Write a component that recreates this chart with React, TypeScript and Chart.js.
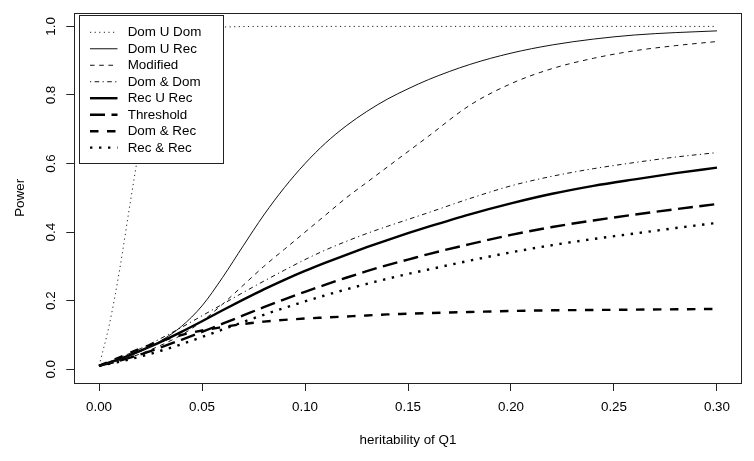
import React, { useEffect, useRef } from "react";
import { Chart, registerables } from "chart.js";
Chart.register(...registerables);

const FONT = '"Liberation Sans", Arial, Helvetica, sans-serif';
const FS = 13.4;

// x grid shared by most series
const xVals = [0, 0.01, 0.02, 0.03, 0.04, 0.05, 0.06, 0.07, 0.08, 0.09, 0.10, 0.11, 0.12, 0.13, 0.14, 0.15, 0.16, 0.18, 0.20, 0.22, 0.24, 0.26, 0.28, 0.30];

// Dom U Dom has a finer x grid near the origin
const domUDomX = [0, 0.005, 0.01, 0.015, 0.02, 0.025, 0.03, 0.035, 0.04, 0.05, 0.06, 0.08, 0.10, 0.15, 0.20, 0.25, 0.30];
const domUDom = [0.01, 0.13, 0.29, 0.48, 0.66, 0.80, 0.90, 0.955, 0.98, 0.994, 0.998, 1, 1, 1, 1, 1, 1];

const domURec = [0.01, 0.028, 0.052, 0.083, 0.125, 0.185, 0.268, 0.36, 0.45, 0.53, 0.60, 0.66, 0.71, 0.752, 0.788, 0.818, 0.845, 0.889, 0.922, 0.946, 0.963, 0.975, 0.982, 0.987];
const modified = [0.01, 0.025, 0.045, 0.07, 0.10, 0.14, 0.19, 0.245, 0.30, 0.35, 0.40, 0.45, 0.50, 0.545, 0.59, 0.635, 0.68, 0.77, 0.833, 0.877, 0.907, 0.929, 0.944, 0.956];
const domDom = [0.01, 0.034, 0.06, 0.09, 0.122, 0.156, 0.19, 0.224, 0.257, 0.289, 0.32, 0.348, 0.373, 0.396, 0.417, 0.437, 0.457, 0.498, 0.535, 0.563, 0.585, 0.603, 0.619, 0.632];
const recURec = [0.01, 0.03, 0.054, 0.08, 0.109, 0.14, 0.172, 0.203, 0.233, 0.261, 0.287, 0.311, 0.334, 0.356, 0.377, 0.397, 0.416, 0.452, 0.484, 0.512, 0.535, 0.554, 0.572, 0.588];
const threshold = [0.01, 0.025, 0.043, 0.064, 0.086, 0.109, 0.133, 0.157, 0.181, 0.204, 0.226, 0.247, 0.267, 0.286, 0.304, 0.32, 0.336, 0.365, 0.392, 0.415, 0.434, 0.451, 0.467, 0.482];
const domRec = [0.01, 0.035, 0.06, 0.082, 0.10, 0.113, 0.123, 0.132, 0.139, 0.144, 0.148, 0.151, 0.154, 0.157, 0.16, 0.162, 0.164, 0.167, 0.17, 0.172, 0.173, 0.174, 0.175, 0.176];
const recRec = [0.01, 0.022, 0.037, 0.054, 0.073, 0.094, 0.116, 0.138, 0.159, 0.179, 0.198, 0.216, 0.233, 0.249, 0.264, 0.278, 0.291, 0.317, 0.341, 0.362, 0.38, 0.396, 0.412, 0.427];

const seriesNames = ["Dom U Dom", "Dom U Rec", "Modified", "Dom & Dom", "Rec U Rec", "Threshold", "Dom & Rec", "Rec & Rec"];

const xTicks = [0, 0.05, 0.10, 0.15, 0.20, 0.25, 0.30];
const yTicks = [0, 0.2, 0.4, 0.6, 0.8, 1.0];

const thin = 1;
const thick = 2.4;

const pts = (xs: number[], ys: number[]) => xs.map((x, i) => ({ x, y: ys[i] }));

export default function App() {
  const ref = useRef<HTMLCanvasElement>(null);
  useEffect(() => {
    const canvas = ref.current!;
    const styles = [
      { w: thin, dash: [1.2, 3.4], color: "#222" },
      { w: thin, dash: [], color: "#111" },
      { w: thin, dash: [4.6, 4.6], color: "#111" },
      { w: thin, dash: [1.2, 3.4, 4.6, 3.4], color: "#111" },
      { w: thick, dash: [], color: "#000" },
      { w: thick, dash: [15, 6.5], color: "#000" },
      { w: thick, dash: [8.5, 8.5], color: "#000" },
      { w: thick, dash: [2.4, 6.6], color: "#000" },
    ];
    const seriesData = [
      pts(domUDomX, domUDom),
      pts(xVals, domURec),
      pts(xVals, modified),
      pts(xVals, domDom),
      pts(xVals, recURec),
      pts(xVals, threshold),
      pts(xVals, domRec),
      pts(xVals, recRec),
    ];
    const datasets = seriesNames.map((name, i) => ({
      label: name,
      data: seriesData[i],
      borderColor: styles[i].color,
      borderWidth: styles[i].w,
      borderDash: styles[i].dash,
      borderCapStyle: "butt" as const,
      pointRadius: 0,
      fill: false,
      cubicInterpolationMode: "monotone" as const,
    }));

    const decor = {
      id: "decor",
      afterDraw(chart: any) {
        const ctx = chart.ctx;
        const ca = chart.chartArea;
        const yScale = chart.scales.y;
        ctx.save();
        // y tick labels (rotated, like R)
        ctx.fillStyle = "#000";
        ctx.font = `${FS}px ${FONT}`;
        ctx.textAlign = "center";
        ctx.textBaseline = "middle";
        yTicks.forEach((v) => {
          const py = yScale.getPixelForValue(v);
          ctx.save();
          ctx.translate(51, py);
          ctx.rotate(-Math.PI / 2);
          ctx.fillText(v.toFixed(1), 0, 0);
          ctx.restore();
        });
        // legend
        const lx0 = 78.7, ly0 = 15, lx1 = 222.7, ly1 = 163.3;
        ctx.fillStyle = "#fff";
        ctx.fillRect(lx0, ly0, lx1 - lx0, ly1 - ly0);
        ctx.strokeStyle = "#222";
        ctx.lineWidth = 1;
        ctx.setLineDash([]);
        ctx.strokeRect(Math.round(lx0) + 0.5, Math.round(ly0) + 0.5, Math.round(lx1 - lx0), Math.round(ly1 - ly0));
        chart.data.datasets.forEach((ds: any, i: number) => {
          const y = 32.3 + i * 16.48;
          ctx.beginPath();
          ctx.strokeStyle = ds.borderColor;
          ctx.lineWidth = ds.borderWidth;
          ctx.setLineDash(ds.borderDash);
          ctx.lineCap = "butt";
          ctx.moveTo(90, y);
          ctx.lineTo(117.5, y);
          ctx.stroke();
          ctx.setLineDash([]);
          ctx.fillStyle = "#000";
          ctx.textAlign = "left";
          ctx.textBaseline = "middle";
          ctx.fillText(ds.label, 127.7, y + 0.5);
        });
        // plot box
        ctx.strokeStyle = "#222";
        ctx.lineWidth = 1;
        ctx.setLineDash([]);
        ctx.strokeRect(Math.round(ca.left) + 0.5, Math.round(ca.top) + 0.5, Math.round(ca.right - ca.left), Math.round(ca.bottom - ca.top));
        ctx.restore();
      },
    };

    const chart = new Chart(canvas, {
      type: "line",
      data: { datasets },
      options: {
        responsive: false,
        devicePixelRatio: 1,
        animation: false,
        layout: { padding: { left: 0, top: 12.7, right: 12.3, bottom: 0 } },
        plugins: { legend: { display: false }, tooltip: { enabled: false } },
        scales: {
          x: {
            type: "linear",
            min: -0.012,
            max: 0.312,
            afterBuildTicks: (s: any) => {
              s.ticks = xTicks.map((v) => ({ value: v }));
            },
            afterFit: (s: any) => {
              s.height = 461 - 383;
            },
            grid: { display: true, drawOnChartArea: false, drawTicks: true, tickLength: 8, color: "#222", lineWidth: 1 },
            border: { display: false },
            ticks: {
              autoSkip: false,
              maxRotation: 0,
              minRotation: 0,
              padding: 8,
              color: "#000",
              font: { family: FONT, size: FS },
              callback: (v: any) => Number(v).toFixed(2),
            },
            title: {
              display: true,
              text: "heritability of Q1",
              color: "#000",
              font: { family: FONT, size: FS },
              padding: { top: 0, bottom: 13 },
            },
          },
          y: {
            type: "linear",
            min: -0.04,
            max: 1.04,
            afterBuildTicks: (s: any) => {
              s.ticks = yTicks.map((v) => ({ value: v }));
            },
            afterFit: (s: any) => {
              s.width = 74.3;
            },
            grid: { display: true, drawOnChartArea: false, drawTicks: true, tickLength: 8, color: "#222", lineWidth: 1 },
            border: { display: false },
            ticks: { display: false },
            title: {
              display: true,
              text: "Power",
              color: "#000",
              font: { family: FONT, size: FS },
              padding: { top: 12.7, bottom: 0 },
            },
          },
        },
      },
      plugins: [decor],
    });
    return () => chart.destroy();
  }, []);
  return (
    <div style={{ position: "fixed", left: 0, top: 0, width: 754, height: 461, background: "#fff" }}>
      <canvas ref={ref} width={754} height={461} style={{ display: "block", width: 754, height: 461 }} />
    </div>
  );
}
